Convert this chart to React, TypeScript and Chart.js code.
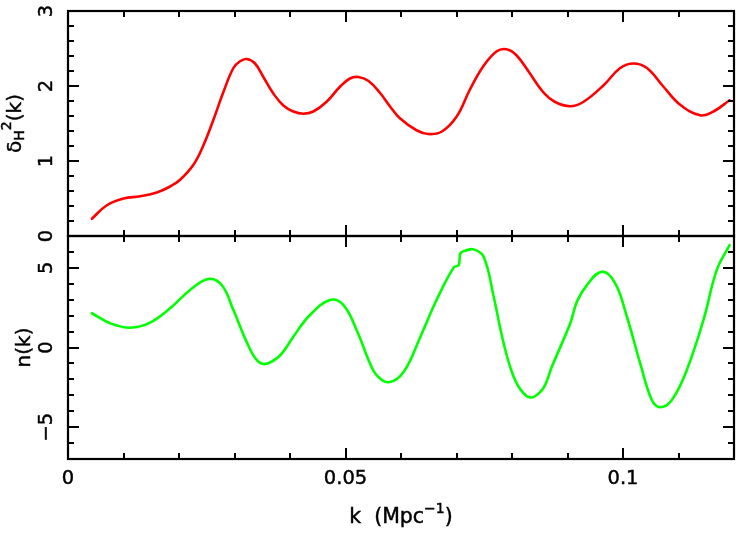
import React, { useEffect, useRef } from "react";
import { Chart, registerables } from "chart.js";

Chart.register(...registerables);

// ---- data ----
const K_DELTA = [0.0043, 0.0070, 0.0100, 0.0130, 0.0160, 0.0184, 0.0202, 0.0226, 0.0244, 0.0262, 0.0280, 0.0298, 0.0310, 0.0322, 0.0337, 0.0352, 0.0370, 0.0388, 0.0406, 0.0424, 0.0442, 0.0466, 0.0490, 0.0508, 0.0523, 0.0541, 0.0562, 0.0580, 0.0598, 0.0628, 0.0649, 0.0673, 0.0700, 0.0724, 0.0748, 0.0772, 0.0790, 0.0808, 0.0832, 0.0856, 0.0877, 0.0905, 0.0929, 0.0965, 0.0995, 0.1019, 0.1043, 0.1073, 0.1103, 0.1139, 0.1163, 0.1192];
const DELTA_H2 = [0.23, 0.41, 0.50, 0.53, 0.58, 0.66, 0.75, 0.95, 1.21, 1.55, 1.92, 2.24, 2.33, 2.36, 2.30, 2.12, 1.90, 1.74, 1.66, 1.63, 1.66, 1.79, 1.99, 2.10, 2.12, 2.07, 1.91, 1.73, 1.57, 1.41, 1.36, 1.39, 1.59, 1.95, 2.26, 2.46, 2.49, 2.41, 2.17, 1.92, 1.79, 1.73, 1.79, 2.01, 2.24, 2.30, 2.24, 1.99, 1.75, 1.61, 1.66, 1.81];

const K_N = [0.0043, 0.0076, 0.0112, 0.0148, 0.0184, 0.0220, 0.0253, 0.0277, 0.0298, 0.0323, 0.0340, 0.0355, 0.0376, 0.0388, 0.0406, 0.0436, 0.0472, 0.0496, 0.0520, 0.0544, 0.0556, 0.0578, 0.0605, 0.0635, 0.0664, 0.0695, 0.0704, 0.0707, 0.0716, 0.0731, 0.0749, 0.0767, 0.0785, 0.0803, 0.0821, 0.0836, 0.0854, 0.0861, 0.0872, 0.0905, 0.0917, 0.0935, 0.0962, 0.0986, 0.1007, 0.1031, 0.1052, 0.1067, 0.1088, 0.1115, 0.1145, 0.1169, 0.1192];
const N_K = [2.15, 1.52, 1.24, 1.56, 2.46, 3.61, 4.30, 3.92, 2.35, 0.26, -0.78, -1.04, -0.68, -0.26, 0.68, 2.04, 2.98, 2.67, 1.10, -0.99, -1.73, -2.18, -1.52, 0.68, 2.98, 5.03, 5.18, 5.91, 6.08, 6.16, 5.70, 3.19, 0.26, -1.83, -2.88, -3.13, -2.67, -2.25, -1.20, 1.52, 2.88, 3.92, 4.76, 4.03, 1.93, -0.99, -3.30, -3.75, -3.30, -1.41, 1.73, 4.87, 6.43];

const X_RANGE = [0, 0.12];
const X_TICK_LABELS = ["0", "0.05", "0.1"];
const X_TICK_VALUES = [0, 0.05, 0.1];
const DELTA_RANGE = [0, 3];
const DELTA_TICKS = [0, 1, 2, 3];
const N_RANGE = [-7, 7];
const N_TICKS = [-5, 0, 5];

const FONT = '"DejaVu Sans", sans-serif';
const FS = 19.5;

function drawText(ctx: any, t: string, x: number, y: number) {
  ctx.fillText(t, x, y);
  ctx.strokeText(t, x, y);
}

function decorPlugin(cfg: any) {
  return {
    id: "panelDecor",
    afterDraw(chart: any) {
      const ctx = chart.ctx;
      const { left, right, top, bottom } = chart.chartArea;
      const xs = chart.scales.x;
      const ys = chart.scales.y;
      ctx.save();
      ctx.strokeStyle = "#000";
      ctx.fillStyle = "#000";
      ctx.lineWidth = 2.2;
      ctx.lineCap = "butt";
      ctx.strokeRect(left, top, right - left, bottom - top);
      ctx.lineWidth = 2;
      // x ticks (top & bottom edges)
      ctx.beginPath();
      for (let i = 1; i < 12; i++) {
        const v = i * 0.01;
        const px = Math.round(xs.getPixelForValue(v));
        const len = i % 5 === 0 ? 11 : 6;
        ctx.moveTo(px, top);
        ctx.lineTo(px, top + len);
        ctx.moveTo(px, bottom);
        ctx.lineTo(px, bottom - len);
      }
      // y ticks
      for (let v = cfg.yMin + cfg.yMinor; v < cfg.yMax - 1e-9; v += cfg.yMinor) {
        const vv = Math.round(v / cfg.yMinor) * cfg.yMinor;
        const py = Math.round(ys.getPixelForValue(vv));
        const isMajor = Math.abs(vv / cfg.yMajor - Math.round(vv / cfg.yMajor)) < 1e-6;
        const len = isMajor ? 11 : 6;
        ctx.moveTo(left, py);
        ctx.lineTo(left + len, py);
        ctx.moveTo(right, py);
        ctx.lineTo(right - len, py);
      }
      ctx.stroke();

      ctx.lineWidth = 0.45;
      // y tick labels (rotated)
      ctx.font = FS + "px " + FONT;
      ctx.textAlign = "center";
      ctx.textBaseline = "middle";
      for (const t of cfg.yTicks) {
        const py = ys.getPixelForValue(t);
        ctx.save();
        ctx.translate(47, py);
        ctx.rotate(-Math.PI / 2);
        drawText(ctx, t < 0 ? "\u2212" + Math.abs(t) : String(t), 0, 0);
        ctx.restore();
      }

      // y title (rotated, with sub/superscripts)
      const parts = cfg.yTitle as { t: string; size: number; dy: number }[];
      ctx.textAlign = "left";
      ctx.textBaseline = "alphabetic";
      let total = 0;
      for (const p of parts) {
        ctx.font = p.size + "px " + FONT;
        total += ctx.measureText(p.t).width;
      }
      ctx.save();
      ctx.translate(cfg.yTitleX, (top + bottom) / 2);
      ctx.rotate(-Math.PI / 2);
      let cx = -total / 2;
      for (const p of parts) {
        ctx.font = p.size + "px " + FONT;
        drawText(ctx, p.t, cx, p.dy);
        cx += ctx.measureText(p.t).width;
      }
      ctx.restore();

      if (cfg.showX) {
        ctx.font = FS + "px " + FONT;
        ctx.textAlign = "center";
        ctx.textBaseline = "middle";
        X_TICK_VALUES.forEach((v, i) => {
          drawText(ctx, X_TICK_LABELS[i], xs.getPixelForValue(v), bottom + 20);
        });
        const xparts = [
          { t: "k  (Mpc", size: 20.5, dy: 0 },
          { t: "\u22121", size: 14, dy: -10 },
          { t: ")", size: 20.5, dy: 0 },
        ];
        ctx.textAlign = "left";
        ctx.textBaseline = "alphabetic";
        let tw = 0;
        for (const p of xparts) {
          ctx.font = p.size + "px " + FONT;
          tw += ctx.measureText(p.t).width;
        }
        let x0 = (left + right) / 2 - tw / 2;
        const base = bottom + 64;
        for (const p of xparts) {
          ctx.font = p.size + "px " + FONT;
          drawText(ctx, p.t, x0, base + p.dy);
          x0 += ctx.measureText(p.t).width;
        }
      }
      ctx.restore();
    },
  };
}

function Panel(props: {
  top: number;
  height: number;
  pad: { left: number; right: number; top: number; bottom: number };
  xs: number[];
  ys: number[];
  color: string;
  yRange: number[];
  decor: any;
}) {
  const ref = useRef<HTMLCanvasElement | null>(null);
  useEffect(() => {
    if (!ref.current) return;
    const data = props.xs.map((x, i) => ({ x, y: props.ys[i] }));
    const chart = new Chart(ref.current, {
      type: "line",
      data: {
        datasets: [
          {
            data,
            borderColor: props.color,
            borderWidth: 2.6,
            pointRadius: 0,
            fill: false,
            tension: 0.4,
            borderJoinStyle: "round",
            borderCapStyle: "round",
          },
        ],
      },
      options: {
        animation: false,
        responsive: false,
        maintainAspectRatio: false,
        devicePixelRatio: 1,
        layout: { padding: props.pad },
        plugins: { legend: { display: false }, tooltip: { enabled: false } },
        scales: {
          x: { type: "linear", min: X_RANGE[0], max: X_RANGE[1], display: false },
          y: { type: "linear", min: props.yRange[0], max: props.yRange[1], display: false },
        },
      },
      plugins: [decorPlugin(props.decor)],
    } as any);
    return () => chart.destroy();
  }, []);
  return (
    <canvas
      ref={ref}
      width={748}
      height={props.height}
      style={{ position: "absolute", left: 0, top: props.top, width: 748, height: props.height }}
    />
  );
}

export default function App() {
  return (
    <div style={{ position: "fixed", left: 0, top: 0, width: 748, height: 545, background: "#fff" }}>
      <Panel
        top={0}
        height={250}
        pad={{ left: 68, right: 14, top: 11, bottom: 14 }}
        xs={K_DELTA}
        ys={DELTA_H2}
        color="#ff0000"
        yRange={DELTA_RANGE}
        decor={{
          yMin: DELTA_RANGE[0],
          yMax: DELTA_RANGE[1],
          yMinor: 0.2,
          yMajor: 1,
          yTicks: DELTA_TICKS,
          yTitleX: 21,
          yTitle: [
            { t: "\u03b4", size: 20, dy: 0 },
            { t: "H", size: 14, dy: 3 },
            { t: "2", size: 14, dy: -10 },
            { t: "(k)", size: 20, dy: 0 },
          ],
          showX: false,
        }}
      />
      <Panel
        top={226}
        height={319}
        pad={{ left: 68, right: 14, top: 10, bottom: 86 }}
        xs={K_N}
        ys={N_K}
        color="#00ff00"
        yRange={N_RANGE}
        decor={{
          yMin: N_RANGE[0],
          yMax: N_RANGE[1],
          yMinor: 1,
          yMajor: 5,
          yTicks: N_TICKS,
          yTitleX: 30,
          yTitle: [{ t: "n(k)", size: 20, dy: 0 }],
          showX: true,
        }}
      />
    </div>
  );
}
